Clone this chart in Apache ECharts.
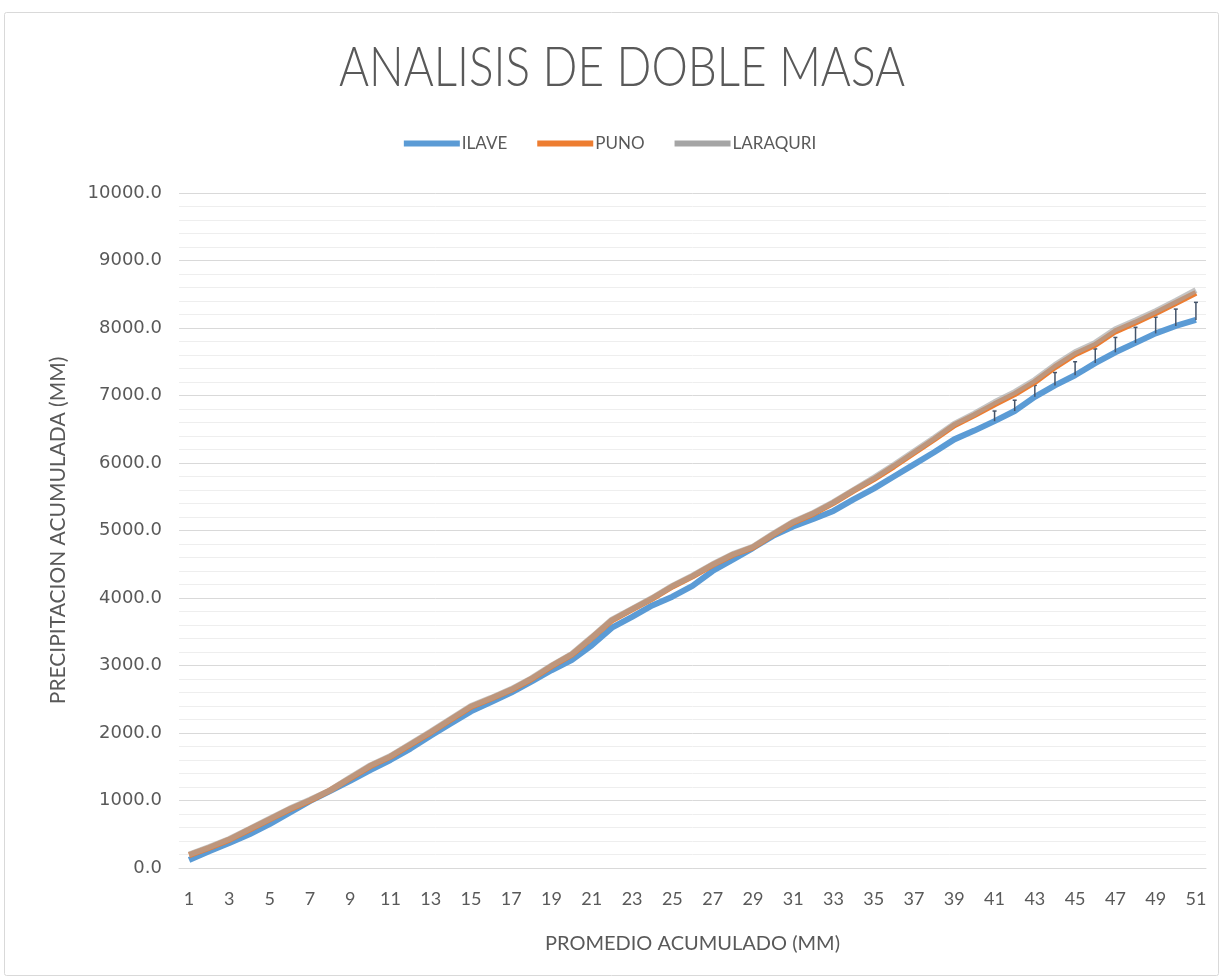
<!DOCTYPE html>
<html>
<head>
<meta charset="utf-8">
<script src="https://cdn.jsdelivr.net/npm/echarts@6/dist/echarts.min.js"></script>
<style>
  html, body { margin: 0; padding: 0; background: #fff; }
  #chart { width: 1220px; height: 977px; }
</style>
</head>
<body>
<div id="chart"></div>
<script>
const categories = Array.from({ length: 51 }, (_, i) => String(i + 1))

const ilave = [
  120, 250, 370, 500, 650, 820, 990, 1140, 1290, 1450,
  1600, 1770, 1960, 2140, 2320, 2460, 2600, 2760, 2930, 3080,
  3300, 3560, 3720, 3890, 4020, 4180, 4400, 4570, 4740, 4920,
  5060, 5170, 5290, 5460, 5620, 5800, 5980, 6160, 6350, 6480,
  6620, 6770, 6980, 7150, 7300, 7480, 7640, 7780, 7920, 8030,
  8120,
]

const puno = [
  190, 300, 420, 570, 720, 870, 1000, 1150, 1330, 1510,
  1650, 1830, 2010, 2200, 2390, 2510, 2640, 2800, 2990, 3160,
  3410, 3670, 3830, 3990, 4170, 4320, 4490, 4640, 4750, 4940,
  5120, 5250, 5410, 5590, 5760, 5950, 6150, 6350, 6560, 6710,
  6870, 7020, 7200, 7420, 7610, 7750, 7950, 8080, 8220, 8370,
  8520,
]

const laraquri = [
  200, 310, 430, 580, 730, 880, 1010, 1150, 1340, 1520,
  1660, 1840, 2020, 2210, 2400, 2520, 2650, 2810, 3000, 3170,
  3420, 3680, 3840, 4000, 4180, 4330, 4500, 4650, 4760, 4950,
  5130, 5260, 5420, 5600, 5780, 5970, 6170, 6370, 6580, 6730,
  6900, 7050, 7230, 7450, 7640, 7780, 7980, 8110, 8250, 8400,
  8560,
]

// short error bars above ILAVE near the end of the series
const ilaveError = [
  0, 0, 0, 0, 0, 0, 0, 0, 0, 0,
  0, 0, 0, 0, 0, 0, 0, 0, 0, 0,
  0, 0, 0, 0, 0, 0, 0, 0, 0, 0,
  0, 0, 0, 0, 0, 0, 0, 0, 0, 0,
  150, 160, 170, 190, 200, 210, 220, 230, 240, 250,
  260,
]

const yTicks = [0, 10000, 1000]

const textColor = '#595959'
const font = 'Lato, "Open Sans", sans-serif'

const chart = echarts.init(document.getElementById('chart'))

const option = {
  animation: false,
  backgroundColor: '#fff',
  textStyle: { fontFamily: font },
  graphic: [
    {
      type: 'rect',
      shape: { x: 4.5, y: 12.5, width: 1214, height: 963, r: 2 },
      style: { fill: 'none', stroke: '#d9d9d9', lineWidth: 1 },
      silent: true,
    },
    // chart title, narrowed a little to match the condensed original face
    {
      type: 'text',
      x: 622,
      y: 68,
      scaleX: 0.82,
      silent: true,
      style: {
        text: 'ANALISIS DE DOBLE MASA',
        fontFamily: font,
        fontSize: 56,
        fontWeight: 300,
        fill: textColor,
        align: 'center',
        verticalAlign: 'middle',
      },
    },
  ],
  legend: {
    top: 130,
    left: 'center',
    itemWidth: 56,
    itemHeight: 6,
    itemGap: 30,
    icon: 'rect',
    textStyle: { fontSize: 17, color: textColor, fontFamily: font, padding: [0, 0, 0, -3] },
    data: ['ILAVE', 'PUNO', 'LARAQURI'],
  },
  grid: {
    left: 179,
    right: 14,
    top: 193,
    bottom: 109,
    containLabel: false,
  },
  xAxis: {
    type: 'category',
    data: categories,
    boundaryGap: true,
    name: 'PROMEDIO ACUMULADO (MM)',
    nameLocation: 'middle',
    nameGap: 66,
    nameTextStyle: { fontSize: 20, color: textColor, fontFamily: font },
    axisLine: { lineStyle: { color: '#d9d9d9', width: 1 } },
    axisTick: { show: false },
    axisLabel: {
      interval: 1,
      fontSize: 18,
      color: textColor,
      margin: 22,
      fontFamily: font,
    },
  },
  yAxis: {
    type: 'value',
    min: yTicks[0],
    max: yTicks[1],
    interval: yTicks[2],
    name: 'PRECIPITACION ACUMULADA (MM)',
    nameLocation: 'middle',
    nameGap: 110,
    nameRotate: 90,
    nameTextStyle: { fontSize: 21, color: textColor, fontFamily: font },
    axisLine: { show: false },
    axisTick: { show: false },
    axisLabel: {
      formatter: (v) => v.toFixed(1),
      fontSize: 18,
      color: textColor,
      margin: 17,
      fontFamily: '"DejaVu Sans", sans-serif',
    },
    splitLine: { lineStyle: { color: '#d9d9d9', width: 1 } },
    minorTick: { show: false, splitNumber: 5 },
    minorSplitLine: { show: true, lineStyle: { color: '#eeeeee', width: 1 } },
  },
  series: [
    {
      name: 'ILAVE',
      type: 'line',
      data: ilave,
      showSymbol: false,
      symbol: 'none',
      lineStyle: { color: '#5b9bd5', width: 6 },
      itemStyle: { color: '#5b9bd5' },
      z: 2,
    },
    {
      name: 'ILAVE_ERR',
      type: 'custom',
      data: ilave.map((v, i) => [i, v, ilaveError[i]]),
      renderItem: (params, api) => {
        const err = api.value(2)
        if (!err) return null
        const p0 = api.coord([api.value(0), api.value(1)])
        const p1 = api.coord([api.value(0), api.value(1) + err])
        return {
          type: 'group',
          children: [
            {
              type: 'line',
              shape: { x1: p0[0], y1: p0[1], x2: p1[0], y2: p1[1] },
              style: { stroke: '#44546a', lineWidth: 1.5 },
            },
            {
              type: 'line',
              shape: { x1: p1[0] - 2, y1: p1[1], x2: p1[0] + 2, y2: p1[1] },
              style: { stroke: '#44546a', lineWidth: 1.5 },
            },
          ],
        }
      },
      silent: true,
      z: 3,
    },
    {
      name: 'PUNO',
      type: 'line',
      data: puno,
      showSymbol: false,
      symbol: 'none',
      lineStyle: { color: '#ed7d31', width: 6 },
      itemStyle: { color: '#ed7d31' },
      z: 4,
    },
    {
      name: 'LARAQURI',
      type: 'line',
      data: laraquri,
      showSymbol: false,
      symbol: 'none',
      lineStyle: { color: '#a5a5a5', width: 6, opacity: 0.65 },
      itemStyle: { color: '#a5a5a5' },
      z: 5,
    },
  ],
}

chart.setOption(option)
</script>
</body>
</html>
